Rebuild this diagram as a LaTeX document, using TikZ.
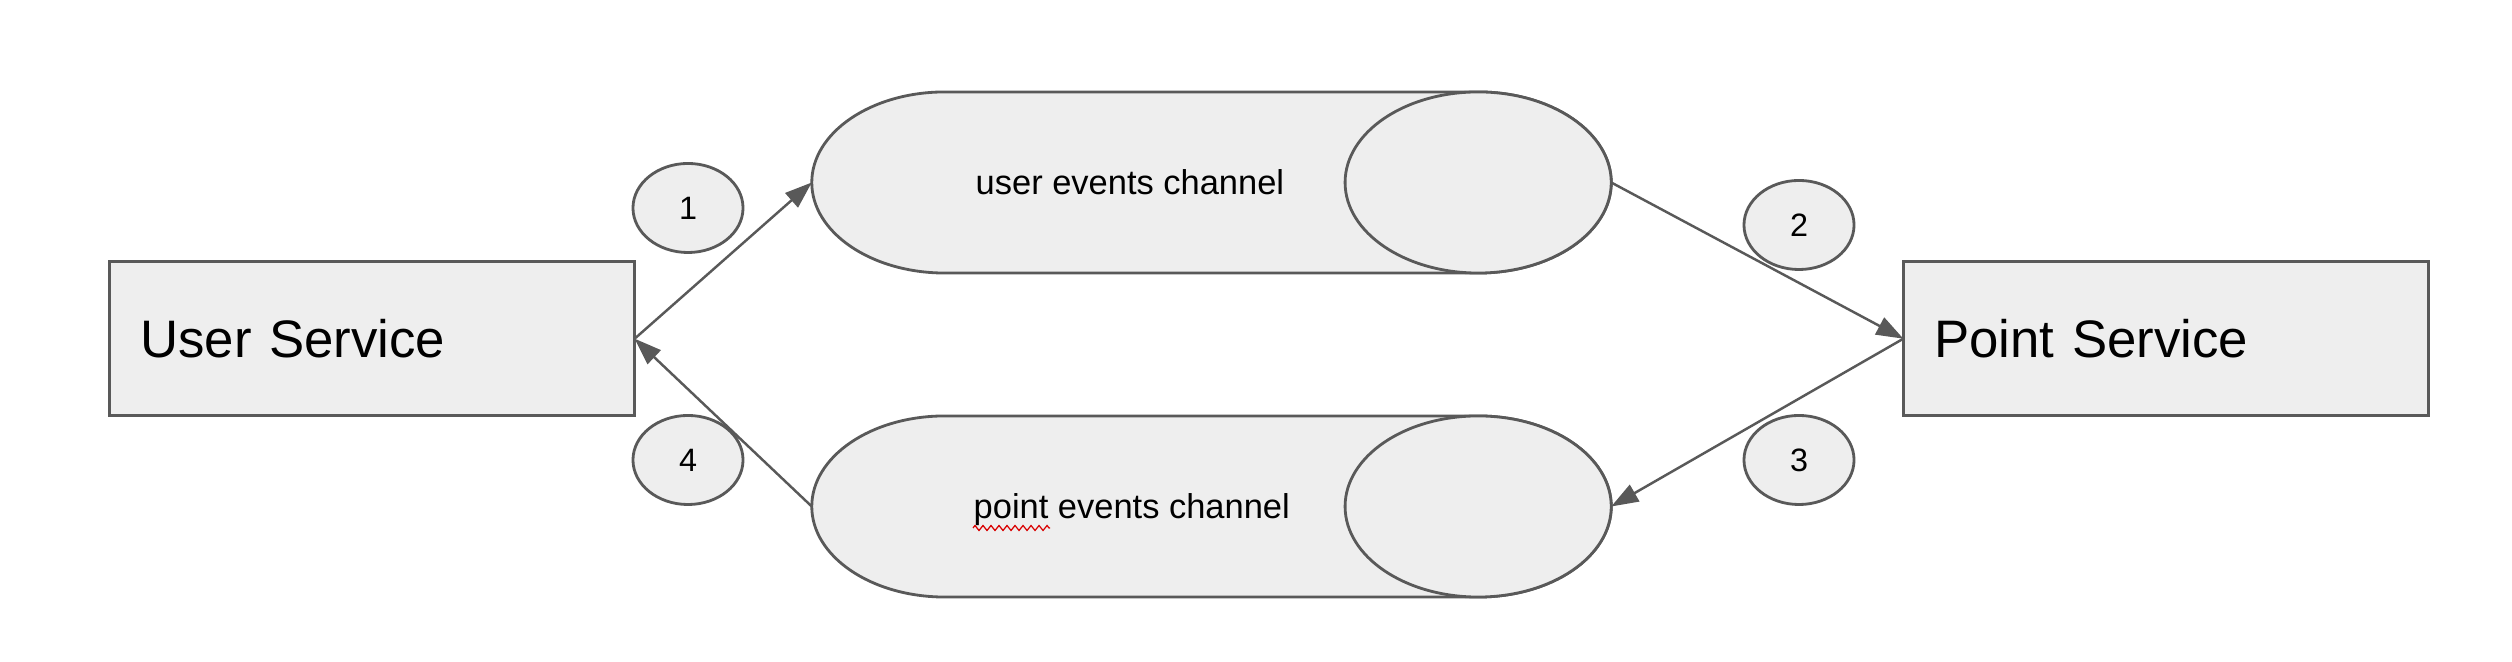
\documentclass[tikz,border=0pt]{standalone}
\usepackage{fontspec}
\setmainfont{Liberation Sans}
\usepackage{xcolor}
\usepackage{tikz}
\usetikzlibrary{arrows.meta,positioning,shapes.geometric,decorations.pathmorphing}

\definecolor{shapefill}{HTML}{EEEEEE}
\definecolor{shapeline}{HTML}{595959}

\begin{document}
\begin{tikzpicture}[x=0.01cm, y=-0.01cm,
  service/.style={rectangle, draw=shapeline, fill=shapefill, line width=0.8pt, minimum width=5.25cm, minimum height=1.54cm, inner xsep=0.31cm, text width=4.63cm, align=left, outer sep=0pt, font=\fontsize{15}{18}\selectfont},
  chanbox/.style={rectangle, minimum width=7.99cm, minimum height=1.81cm, inner sep=0pt, outer sep=0pt},
  canline/.style={draw=shapeline, fill=shapefill, line width=0.8pt},
  chantext/.style={inner sep=0pt, anchor=base west, font=\fontsize{9.8}{12}\selectfont},
  num/.style={ellipse, draw=shapeline, fill=shapefill, line width=0.8pt, minimum width=1.1cm, minimum height=0.89cm, inner sep=0pt, font=\fontsize{9.2}{11}\selectfont},
  squiggle/.style={draw=red!85!black, line width=0.35pt, decorate, decoration={zigzag, amplitude=0.025cm, segment length=0.08cm}},
  line/.style={draw=shapeline, line width=0.7pt, -{Triangle[length=0.27cm, width=0.19cm]}}]
  \useasboundingbox (0,0) rectangle (2512,662);

  \node [service] (user) at (372,338.7) {User Service};
  \node [service] (point) at (2166,338.7) {Point Service};
  \node [chanbox] (uch) at (1211.5,182.5) {};
  \node [chanbox] (pch) at (1211.5,506.5) {};

  % the two channels drawn as lying cans
  \foreach \c in {uch,pch} {
    \draw [canline] ([xshift=1.33cm]\c.north west)
      arc[start angle=90, end angle=270, x radius=1.33cm, y radius=0.905cm]
      -- ([xshift=-1.33cm]\c.south east)
      arc[start angle=-90, end angle=90, x radius=1.33cm, y radius=0.905cm] -- cycle;
    \draw [canline] ([xshift=-1.33cm]\c.east) ellipse [x radius=1.33cm, y radius=0.905cm];
  }

  \node [chantext] (utext) at (975,195) {user events channel};
  \node [chantext] (ptext) at (973,519) {point events channel};
  \draw [squiggle] ([yshift=-0.09cm]ptext.base west) -- ++(77,0);

  % step numbers
  \node [num] (n1) at (688,208) {1};
  \node [num] (n2) at (1799,225) {2};
  \node [num] (n3) at (1799,460) {3};
  \node [num] (n4) at (688,460) {4};

  \path [line] (user.east) -- (uch.west);
  \path [line] (uch.east) -- (point.west);
  \path [line] (point.west) -- (pch.east);
  \path [line] (pch.west) -- (user.east);
\end{tikzpicture}
\end{document}
